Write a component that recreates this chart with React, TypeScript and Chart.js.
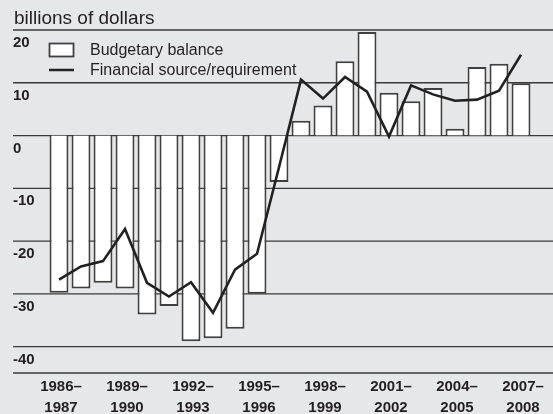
import React, { useEffect, useRef } from "react";
import { Chart, registerables } from "chart.js";

Chart.register(...registerables);

const categories = [
  "1986–1987", "1987–1988", "1988–1989", "1989–1990", "1990–1991", "1991–1992",
  "1992–1993", "1993–1994", "1994–1995", "1995–1996", "1996–1997", "1997–1998",
  "1998–1999", "1999–2000", "2000–2001", "2001–2002", "2002–2003", "2003–2004",
  "2004–2005", "2005–2006", "2006–2007", "2007–2008",
];

const labeledCategories = [
  "1986–1987", "1989–1990", "1992–1993", "1995–1996",
  "1998–1999", "2001–2002", "2004–2005", "2007–2008",
];

const budgetaryBalance = [
  -29.8, -29.0, -27.9, -29.0, -33.9, -32.3, -39.0, -38.4, -36.6, -30.0, -8.8,
  2.8, 5.7, 14.1, 19.6, 8.1, 6.5, 9.0, 1.3, 13.0, 13.6, 9.9,
];

const financialSource = [
  -27.3, -24.8, -23.8, -17.7, -27.9, -30.5, -27.8, -33.6, -25.4, -22.4, -6.0,
  10.6, 7.0, 11.1, 8.3, -0.2, 9.5, 7.8, 6.6, 6.8, 8.5, 15.3,
];

const yTickValues = [20, 10, 0, -10, -20, -30, -40];
const gridValues = [20, 10, 0, -10, -20, -30, -40, -45];
const yMin = -45;
const yMax = 20;

const titleText = "billions of dollars";
const legendLabels = ["Budgetary balance", "Financial source/requirement"];

const FONT = "'Liberation Sans', Arial, Helvetica, sans-serif";
const BG = "#e6e7e9";
const INK = "#231f20";
const GRID = "#3a3a3a";
const BAR_BORDER = "#404040";

const decorPlugin = {
  id: "decor",
  beforeDatasetsDraw(chart: any) {
    const ctx = chart.ctx;
    const y = chart.scales.y;
    ctx.save();
    ctx.strokeStyle = GRID;
    ctx.lineWidth = 1.3;
    gridValues.forEach((v) => {
      const py = y.getPixelForValue(v);
      ctx.beginPath();
      ctx.moveTo(13, py);
      ctx.lineTo(chart.width, py);
      ctx.stroke();
    });
    ctx.fillStyle = INK;
    ctx.font = `bold 15px ${FONT}`;
    ctx.textAlign = "left";
    ctx.textBaseline = "middle";
    yTickValues.forEach((v) => {
      const py = y.getPixelForValue(v);
      ctx.fillText(String(v), 13, py + 13);
    });
    ctx.restore();
  },
  afterDraw(chart: any) {
    const ctx = chart.ctx;
    ctx.save();
    ctx.fillStyle = INK;
    ctx.textAlign = "left";
    ctx.textBaseline = "alphabetic";
    ctx.font = `19px ${FONT}`;
    ctx.fillText(titleText, 14, 24);

    // legend
    ctx.font = `16px ${FONT}`;
    ctx.fillStyle = "#ffffff";
    ctx.fillRect(49.5, 43.5, 24, 13);
    ctx.strokeStyle = BAR_BORDER;
    ctx.lineWidth = 1.8;
    ctx.strokeRect(49.5, 43.5, 24, 13);
    ctx.fillStyle = INK;
    ctx.fillText(legendLabels[0], 90, 55);

    ctx.strokeStyle = "#222222";
    ctx.lineWidth = 2.5;
    ctx.beginPath();
    ctx.moveTo(49, 70);
    ctx.lineTo(74, 70);
    ctx.stroke();
    ctx.fillText(legendLabels[1], 90, 75);
    ctx.restore();
  },
};

export default function App() {
  const canvasRef = useRef<HTMLCanvasElement | null>(null);

  useEffect(() => {
    document.body.style.margin = "0";
    const canvas = canvasRef.current;
    if (!canvas) return;
    const chart = new Chart(canvas, {
      type: "bar",
      data: {
        labels: categories,
        datasets: [
          {
            type: "line",
            label: legendLabels[1],
            data: financialSource,
            borderColor: "#222222",
            borderWidth: 2.6,
            pointRadius: 0,
            tension: 0,
            fill: false,
          } as any,
          {
            type: "bar",
            label: legendLabels[0],
            data: budgetaryBalance,
            backgroundColor: "#ffffff",
            borderColor: BAR_BORDER,
            borderWidth: 2,
            categoryPercentage: 1,
            barPercentage: 0.86,
          },
        ],
      },
      options: {
        responsive: false,
        animation: false,
        layout: { padding: { left: 48, right: 21, top: 30, bottom: 0 } },
        plugins: {
          legend: { display: false },
          title: { display: false },
          tooltip: { enabled: false },
        },
        scales: {
          x: {
            grid: { display: false, drawTicks: false },
            border: { display: false },
            ticks: {
              autoSkip: false,
              maxRotation: 0,
              minRotation: 0,
              padding: 4,
              labelOffset: 2,
              color: INK,
              font: { family: FONT, size: 15, weight: "bold", lineHeight: 1.35 },
              callback: (_v: any, i: number) => {
                const c = categories[i];
                if (!labeledCategories.includes(c)) return "";
                const [a, b] = c.split("–");
                return [a + "–", b];
              },
            },
            afterFit: (scale: any) => {
              scale.height = 41;
            },
          },
          y: {
            display: false,
            min: yMin,
            max: yMax,
          },
        },
      } as any,
      plugins: [decorPlugin],
    });
    return () => chart.destroy();
  }, []);

  return (
    <div
      style={{
        position: "absolute",
        left: 0,
        top: 0,
        width: 553,
        height: 414,
        background: BG,
      }}
    >
      <canvas ref={canvasRef} width={553} height={414} />
    </div>
  );
}
